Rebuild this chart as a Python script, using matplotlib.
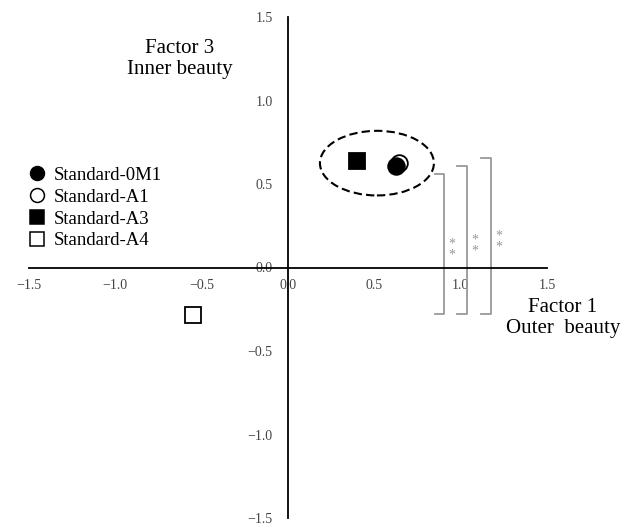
import matplotlib.pyplot as plt
from matplotlib.lines import Line2D
from matplotlib.patches import Ellipse

plt.rcParams['font.family'] = ['Liberation Serif', 'DejaVu Serif']

# factor scores (Factor 1, Factor 3) for each sample
samples = ['Standard-0M1', 'Standard-A1', 'Standard-A3', 'Standard-A4']
factor1 = [0.625, 0.64, 0.40, -0.55]
factor3 = [0.607, 0.625, 0.637, -0.286]
markers = ['o', 'o', 's', 's']
faces = ['black', 'white', 'black', 'white']

# significance brackets: top, bottom, stub start, vertical position
bracket_top = [0.56, 0.607, 0.655]
bracket_bottom = -0.28
bracket_stub = [0.851, 0.979, 1.118]
bracket_x = [0.903, 1.036, 1.175]

ticks = [-1.5, -1.0, -0.5, 0.0, 0.5, 1.0, 1.5]

fig = plt.figure(figsize=(6.3, 5.26), dpi=100)
ax = fig.add_axes([29 / 630, 8 / 526, 518 / 630, 501 / 526])
ax.set_xlim(-1.5, 1.5)
ax.set_ylim(-1.5, 1.5)

for s in ['top', 'right']:
    ax.spines[s].set_visible(False)
ax.spines['left'].set_position('zero')
ax.spines['bottom'].set_position('zero')
ax.spines['left'].set_linewidth(1.3)
ax.spines['bottom'].set_linewidth(1.3)
ax.set_xticks(ticks)
ax.set_yticks(ticks)
ax.set_xticklabels([f'{t:.1f}'.replace('-', '\u2212') for t in ticks])
ax.set_yticklabels([f'{t:.1f}'.replace('-', '\u2212') for t in ticks])
ax.tick_params(length=0, labelsize=10, colors='#444444')
ax.tick_params(axis='x', pad=8)
ax.tick_params(axis='y', pad=11)

# draw the open circle first so the filled one sits on top
order = [1, 0, 2, 3]
for i in order:
    ax.plot(factor1[i], factor3[i], marker=markers[i], markersize=12,
            markerfacecolor=faces[i], markeredgecolor='black',
            markeredgewidth=1.3, linestyle='none', zorder=4)

ax.add_patch(Ellipse((0.515, 0.625), 0.66, 0.387, fill=False,
                     linestyle=(0, (4, 2)), linewidth=1.5, edgecolor='black', zorder=3))

for top, x0, x1 in zip(bracket_top, bracket_stub, bracket_x):
    ax.plot([x0, x1, x1, x0], [top, top, bracket_bottom, bracket_bottom],
            color='#999999', linewidth=1.3, zorder=2)
    ymid = (top + bracket_bottom) / 2 - 0.03
    ax.text(x1 + 0.048, ymid, '*\n*', color='#999999', fontsize=10,
            ha='center', va='center', linespacing=0.8)

fig.text(180 / 630, 1 - 59 / 526, 'Factor 3\nInner beauty', ha='center', va='center',
         fontsize=15, linespacing=1.1)
fig.text(563 / 630, 1 - 318 / 526, 'Factor 1\nOuter  beauty', ha='center', va='center',
         fontsize=15, linespacing=1.1)

handles = [Line2D([], [], marker=m, markersize=10, markerfacecolor=f,
                  markeredgecolor='black', markeredgewidth=1.1, linestyle='none')
           for m, f in zip(markers, faces)]
fig.legend(handles, samples, loc='upper left', bbox_to_anchor=(10 / 630, 1 - 150 / 526),
           frameon=False, fontsize=13.5, handletextpad=0.35, labelspacing=0.25,
           handlelength=1.1)

fig.savefig('out.png', dpi=100)
